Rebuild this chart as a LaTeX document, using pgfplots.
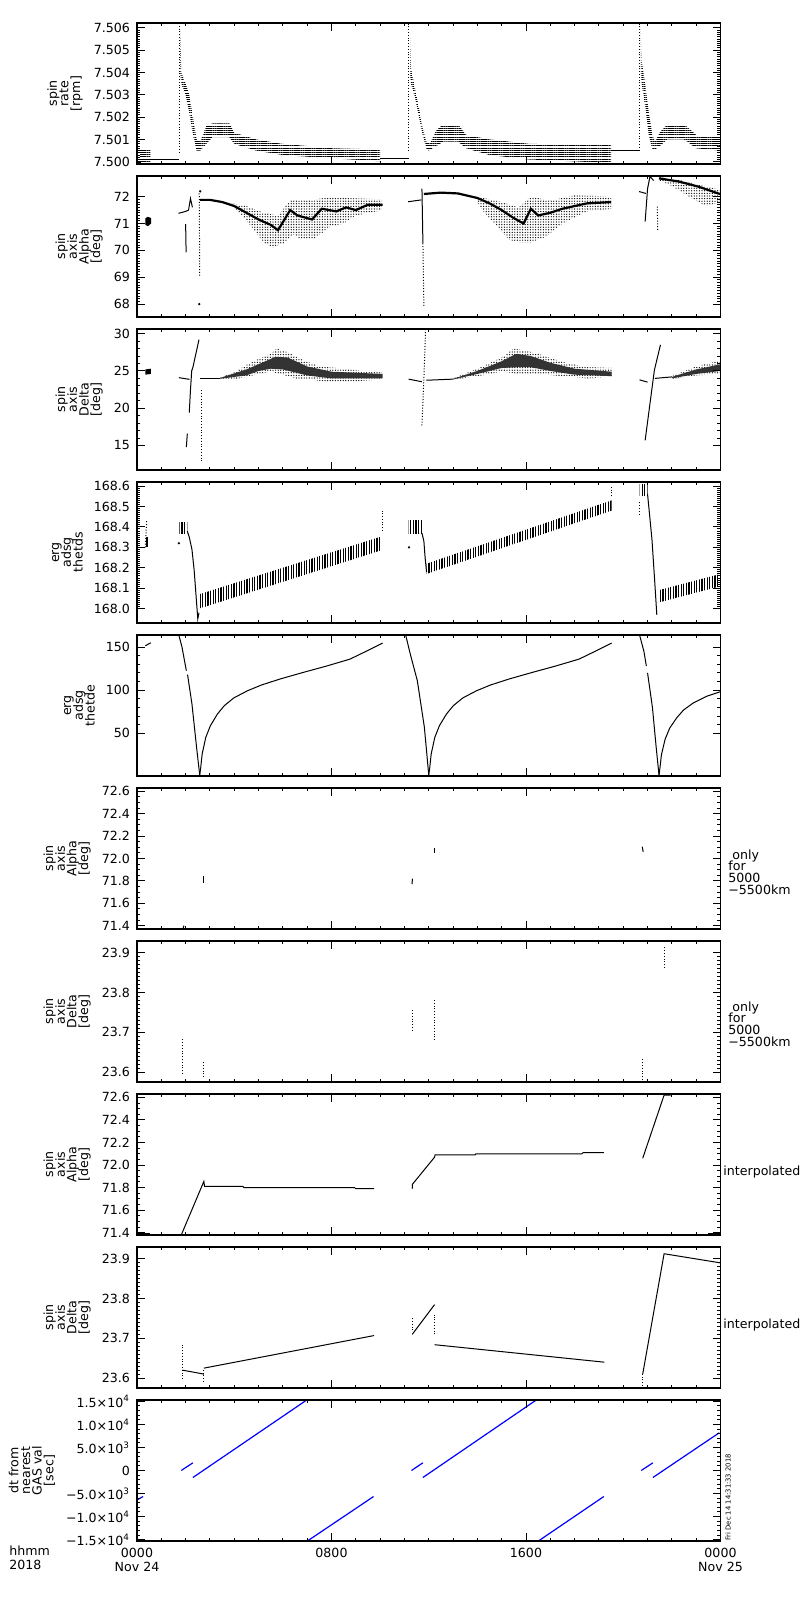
\documentclass[border=0pt]{standalone}
\usepackage{fontspec}
\setmainfont{DejaVu Sans}
\usepackage{pgfplots}
\pgfplotsset{compat=1.18}
\usetikzlibrary{patterns.meta}
\newcommand\ticksize{\fontsize{6.3}{7}\selectfont\lineskiplimit=-20pt}
\newcommand\labsize{\fontsize{6.3}{5.85}\selectfont\lineskiplimit=-20pt}
\tikzset{
 dl/.style={black, line width=0.5pt},
 dd/.style={black, line width=0.5pt, dash pattern=on 0.5pt off 0.9pt},
 core/.style={black, line width=1.1pt},
 scat/.style={draw=none, pattern={Dots[distance=1.3pt,radius=0.33pt]}},
 corefill/.style={draw=none, fill=black!80},
 hband/.style={draw=none, pattern={Lines[angle=0,distance=1.1pt,line width=0.35pt]}},
 vband/.style={draw=none, pattern={Lines[angle=90,distance=1.3pt,line width=0.65pt]}},
 blob/.style={draw=none, fill=black},
 pt/.style={only marks, mark=*, mark size=0.35pt, black},
}
\pgfplotsset{
 panel/.style={
  width=291.75pt, height=70.5pt, scale only axis, anchor=south west,
  xmin=0, xmax=24, xtick={0,8,16,24}, minor xtick={1,2,3,4,5,6,7,9,10,11,12,13,14,15,17,18,19,20,21,22,23},
  xticklabels={}, tick align=inside,
  major tick length=4pt, minor tick length=1.7pt,
  axis line style={line width=0.6pt},
  every tick/.style={line width=0.5pt, black},
  tick label style={font=\ticksize},
  ylabel style={font=\labsize, align=center, inner sep=2pt},
  scaled y ticks=false,
  axis on top,
 },
}
\begin{document}%
\begin{tikzpicture}
\path (0,0) rectangle (400pt,800pt);

% ---------- Panel 1: spin rate
\begin{axis}[panel, at={(68.5pt,718pt)}, ymin=7.4999, ymax=7.50622,
 ytick={7.500,7.501,7.502,7.503,7.504,7.505,7.506},
 yticklabels={7.500,7.501,7.502,7.503,7.504,7.505,7.506},
 minor y tick num=9, ylabel={spin\\rate\\{[rpm]}}]
\addplot[dl] coordinates {(0,7.49998) (0.15,7.49998)};
\addplot[hband] coordinates {(0.12,7.50000) (0.55,7.50000) (0.55,7.50055) (0.12,7.50055)};
\addplot[dl] coordinates {(0.15,7.50010) (1.74,7.50010)};
\addplot[dd] coordinates {(1.74,7.5004) (1.74,7.5062)};
\addplot[hband] coordinates {(1.78,7.5060) (1.82,7.5040) (2.0,7.5035) (2.15,7.5030) (2.3,7.5020) (2.45,7.5010) (2.6,7.5009) (2.85,7.5016) (3.1,7.50172) (3.8,7.50172) (4.0,7.5013) (4.9,7.5010) (6.0,7.5008) (8.1,7.5006) (10.0,7.50055) (10.0,7.50002) (8.1,7.50015) (6.0,7.5003) (4.9,7.5005) (4.0,7.5008) (3.8,7.5011) (3.1,7.5011) (2.85,7.5008) (2.6,7.5005) (2.45,7.5005) (2.3,7.5012) (2.15,7.5022) (2.0,7.5030) (1.82,7.5035) (1.78,7.5040)};
\addplot[dl] coordinates {(10.0,7.50013) (11.17,7.50013)};
\addplot[dd] coordinates {(11.18,7.5005) (11.18,7.5062)};
\addplot[hband] coordinates {(11.23,7.5060) (11.27,7.5042) (11.45,7.5032) (11.6,7.5024) (11.75,7.5015) (11.9,7.5009) (12.05,7.5008) (12.3,7.5014) (12.6,7.50168) (13.2,7.50168) (13.55,7.5012) (14.5,7.5010) (16.15,7.5008) (19.5,7.50075) (19.5,7.49995) (16.15,7.5001) (14.5,7.5003) (13.55,7.5006) (13.2,7.5009) (12.6,7.5009) (12.3,7.5007) (12.0,7.5005) (11.9,7.5006) (11.75,7.5012) (11.6,7.5020) (11.45,7.5028) (11.27,7.5035) (11.23,7.5040)};
\addplot[dl] coordinates {(19.5,7.50052) (20.66,7.50052)};
\addplot[dd] coordinates {(20.68,7.5005) (20.68,7.5062)};
\addplot[hband] coordinates {(20.72,7.5060) (20.76,7.5045) (20.9,7.5035) (21.05,7.5022) (21.2,7.5012) (21.3,7.5009) (21.5,7.5013) (21.8,7.50168) (22.5,7.50168) (23.0,7.5012) (24.0,7.5011) (24.0,7.5005) (23.0,7.5006) (22.5,7.5010) (21.8,7.5010) (21.5,7.5007) (21.3,7.50055) (21.2,7.50055) (21.05,7.5012) (20.9,7.5025) (20.76,7.5035) (20.72,7.5040)};
\end{axis}

% ---------- Panel 2: spin axis alpha
\begin{axis}[panel, at={(68.5pt,641.5pt)}, ymin=67.52, ymax=72.77,
 ytick={68,69,70,71,72}, yticklabels={68,69,70,71,72},
 minor y tick num=9, ylabel={spin\\axis\\Alpha\\{[deg]}}]
\addplot[blob] coordinates {(0.34,70.95) (0.45,70.9) (0.58,71.0) (0.58,71.2) (0.45,71.25) (0.34,71.2)};
\addplot[dl] coordinates {(1.71,71.38) (2.0,71.45) (2.12,71.5) (2.2,71.93) (2.28,71.6)};
\addplot[dl] coordinates {(2.0,70.98) (2.02,69.93)};
\addplot[dd] coordinates {(2.56,72.12) (2.58,69.0)};
\addplot[pt] coordinates {(2.56,68.0) (2.6,72.2)};
\addplot[scat] coordinates {(3.9,71.75) (4.5,71.65) (5.2,71.4) (5.8,71.3) (6.3,71.85) (7.0,71.85) (7.7,71.95) (8.5,71.95) (10.1,71.9) (10.1,71.5) (9.0,71.3) (8.5,71.0) (8.0,70.9) (7.3,70.45) (6.8,70.4) (6.4,70.6) (6.1,70.3) (5.6,70.1) (5.2,70.3) (4.7,70.9) (4.2,71.4) (3.9,71.65)};
\addplot[core] coordinates {(2.6,71.88) (3.0,71.88) (3.5,71.8) (4.0,71.65) (4.4,71.45) (5.0,71.15) (5.5,70.95) (5.8,70.75) (6.3,71.5) (6.6,71.3) (7.2,71.15) (7.6,71.55) (8.2,71.45) (8.6,71.6) (9.0,71.5) (9.5,71.7) (10.1,71.7)};
\addplot[dl] coordinates {(11.15,71.81) (11.7,71.88)};
\addplot[dl] coordinates {(11.72,72.3) (11.76,70.26)};
\addplot[dd] coordinates {(11.76,70.26) (11.8,67.9)};
\addplot[scat] coordinates {(14.0,72.0) (15.0,71.8) (15.7,71.6) (16.2,72.0) (17.0,71.85) (18.0,72.05) (19.5,72.0) (19.5,71.55) (18.5,71.45) (17.5,71.0) (16.8,70.5) (16.2,70.3) (15.7,70.3) (15.3,70.4) (14.8,70.9) (14.2,71.5) (14.0,71.8)};
\addplot[core] coordinates {(11.8,72.1) (12.5,72.15) (13.2,72.12) (14.0,71.95) (14.5,71.75) (15.0,71.5) (15.5,71.2) (15.9,71.0) (16.2,71.55) (16.5,71.3) (17.0,71.4) (17.5,71.55) (18.5,71.75) (19.5,71.8)};
\addplot[dl] coordinates {(20.65,72.19) (20.93,72.12)};
\addplot[dl] coordinates {(20.9,71.07) (21.0,72.3) (21.1,72.75) (21.25,72.6)};
\addplot[dd] coordinates {(21.4,71.63) (21.42,70.7)};
\addplot[scat] coordinates {(21.5,72.72) (22.3,72.62) (23.1,72.45) (24,72.25) (24,71.8) (23.4,71.65) (22.7,72.0) (22.0,72.4) (21.5,72.6)};
\addplot[core] coordinates {(21.47,72.68) (22.3,72.56) (23.1,72.37) (23.9,72.12) (24,72.1)};
\end{axis}

% ---------- Panel 3: spin axis delta
\begin{axis}[panel, at={(68.5pt,565pt)}, ymin=11.71, ymax=30.63,
 ytick={15,20,25,30}, yticklabels={15,20,25,30},
 minor y tick num=4, ylabel={spin\\axis\\Delta\\{[deg]}}]
\addplot[blob] coordinates {(0.34,24.5) (0.57,24.6) (0.57,25.3) (0.34,25.2)};
\addplot[dl] coordinates {(1.72,24.1) (2.16,23.87)};
\addplot[dl] coordinates {(2.03,14.77) (2.07,16.6)};
\addplot[dl] coordinates {(2.15,19.4) (2.2,22.5) (2.25,25.0) (2.3,25.5) (2.55,29.2)};
\addplot[dd] coordinates {(2.64,22.4) (2.64,12.75)};
\addplot[dl] coordinates {(2.6,24.0) (3.4,24.0)};
\addplot[scat] coordinates {(3.4,24.1) (4.0,24.8) (4.5,25.8) (5.0,26.6) (5.5,27.3) (5.75,28.0) (6.2,27.5) (6.8,26.5) (7.5,25.6) (8.5,25.3) (9.5,24.9) (10.1,24.8) (10.1,23.9) (9.0,23.6) (8.0,23.5) (7.2,23.8) (6.5,24.0) (6.0,24.5) (5.5,24.9) (5.0,24.6) (4.5,24.2) (4.0,23.9) (3.4,23.9)};
\addplot[corefill] coordinates {(3.4,24.05) (4.5,25.2) (5.0,25.9) (5.7,26.9) (6.2,26.8) (7.0,25.6) (8.0,24.9) (10.1,24.6) (10.1,24.0) (8.0,24.0) (7.0,24.4) (6.5,24.8) (6.0,25.2) (5.5,25.3) (5.0,25.0) (4.5,24.4) (3.4,23.95)};
\addplot[dl] coordinates {(11.17,23.9) (11.72,23.55)};
\addplot[dd] coordinates {(11.72,17.7) (11.8,24) (11.87,30.6)};
\addplot[dl] coordinates {(11.9,23.75) (13.0,23.9)};
\addplot[scat] coordinates {(13.0,24.0) (14.0,25.3) (15.0,26.8) (15.5,28.0) (16.0,27.7) (16.5,27.3) (17.5,26.2) (18.5,25.5) (19.52,25.4) (19.52,24.2) (18.5,24.0) (17.5,24.3) (16.5,24.6) (16.0,24.5) (15.5,24.7) (15.0,24.9) (14.0,24.3) (13.0,23.8)};
\addplot[corefill] coordinates {(13.0,23.95) (14.0,25.0) (15.0,26.3) (15.6,27.3) (16.2,27.0) (17.0,26.1) (18.0,25.3) (19.52,24.9) (19.52,24.3) (18.0,24.5) (17.0,25.0) (16.2,25.5) (15.6,25.5) (15.0,25.4) (14.0,24.6) (13.0,23.85)};
\addplot[dl] coordinates {(20.67,23.8) (21.0,23.5)};
\addplot[dl] coordinates {(20.9,15.68) (21.28,25.1) (21.53,28.5)};
\addplot[dl] coordinates {(21.3,24.0) (22.0,24.2)};
\addplot[scat] coordinates {(22.0,24.3) (23.0,25.6) (24,26.4) (24,24.6) (23.0,24.4) (22.0,23.9)};
\addplot[corefill] coordinates {(22.0,24.2) (23.0,25.2) (24,25.9) (24,25.0) (23.0,24.6) (22.0,24.0)};
\end{axis}

% ---------- Panel 4: erg adsg thetds
\begin{axis}[panel, at={(68.5pt,488.5pt)}, ymin=167.93, ymax=168.62,
 ytick={168.0,168.1,168.2,168.3,168.4,168.5,168.6},
 yticklabels={168.0,168.1,168.2,168.3,168.4,168.5,168.6},
 minor y tick num=9, ylabel={erg\\adsg\\thetds}]
\addplot[dd] coordinates {(0.34,168.30) (0.40,168.43)};
\addplot[blob] coordinates {(0.36,168.30) (0.45,168.30) (0.45,168.35) (0.36,168.35)};
\addplot[pt] coordinates {(1.72,168.32) (11.19,168.30)};
\addplot[vband] coordinates {(1.74,168.37) (2.07,168.37) (2.07,168.42) (1.74,168.42)};
\addplot[dl] coordinates {(2.07,168.38) (2.15,168.35) (2.26,168.29) (2.35,168.19) (2.45,168.03) (2.5,167.95) (2.55,167.98)};
\addplot[vband] coordinates {(2.55,168.0) (10.1,168.288) (10.1,168.355) (2.55,168.07)};
\addplot[dd] coordinates {(10.1,168.38) (10.1,168.48)};
\addplot[vband] coordinates {(11.17,168.37) (11.72,168.37) (11.72,168.43) (11.17,168.43)};
\addplot[dl] coordinates {(11.72,168.37) (11.8,168.33) (11.85,168.25) (11.91,168.18)};
\addplot[vband] coordinates {(11.91,168.17) (19.52,168.48) (19.52,168.53) (11.91,168.22)};
\addplot[dd] coordinates {(19.52,168.55) (19.52,168.60)};
\addplot[vband] coordinates {(20.67,168.55) (21.0,168.55) (21.0,168.61) (20.67,168.61)};
\addplot[dd] coordinates {(20.67,168.46) (20.67,168.52)};
\addplot[dl] coordinates {(21.0,168.56) (21.18,168.34) (21.28,168.16) (21.38,167.97)};
\addplot[vband] coordinates {(21.45,168.03) (24,168.11) (24,168.17) (21.45,168.09)};
\end{axis}

% ---------- Panel 5: erg adsg thetde
\begin{axis}[panel, at={(68.5pt,412pt)}, ymin=0.5, ymax=164,
 ytick={50,100,150}, yticklabels={50,100,150},
 minor y tick num=4, ylabel={erg\\adsg\\thetde}]
\addplot[dl] coordinates {(0.34,151.5) (0.57,155.0)};
\addplot[dl] coordinates {(1.72,164) (1.85,150) (2.03,122.6)};
\addplot[dl] coordinates {(2.08,118) (2.26,84) (2.45,33.8) (2.58,1.5)};
\addplot[dl] coordinates {(2.58,1.5) (2.62,10) (2.68,26) (2.83,45.4) (3.02,58.9) (3.31,72.4) (3.59,82) (3.98,91) (4.55,99.4) (5.12,106) (5.89,113) (6.85,120.7) (7.80,128) (8.76,136) (9.33,143.8) (10.1,154.6)};
\addplot[dl] coordinates {(11.05,164) (11.24,141.9) (11.53,111) (11.82,57) (12.0,1.5)};
\addplot[dl] coordinates {(12.0,1.5) (12.04,10) (12.10,26) (12.25,45.4) (12.44,58.9) (12.73,72.4) (13.01,82) (13.40,91) (13.97,99.4) (14.54,106) (15.31,113) (16.27,120.7) (17.22,128) (18.18,136) (18.75,143.8) (19.52,154.6)};
\addplot[dl] coordinates {(20.67,164) (20.85,145) (20.95,128)};
\addplot[dl] coordinates {(21.0,120) (21.2,80) (21.35,35) (21.47,1.5)};
\addplot[dl] coordinates {(21.47,1.5) (21.51,10) (21.57,25) (21.72,43) (21.91,56) (22.2,68) (22.48,77) (22.87,85) (23.44,93) (24.0,98.3)};
\end{axis}

% ---------- Panel 6: spin axis alpha (5000-5500 km)
\begin{axis}[panel, at={(68.5pt,335.5pt)}, ymin=71.37, ymax=72.63,
 ytick={71.4,71.6,71.8,72.0,72.2,72.4,72.6},
 yticklabels={71.4,71.6,71.8,72.0,72.2,72.4,72.6},
 minor y tick num=3, ylabel={spin\\axis\\Alpha\\{[deg]}}]
\addplot[dl] coordinates {(1.89,71.37) (1.93,71.40)};
\addplot[dl] coordinates {(2.75,71.845) (2.75,71.785)};
\addplot[dl] coordinates {(11.31,71.77) (11.33,71.82)};
\addplot[dl] coordinates {(12.24,72.05) (12.24,72.09)};
\addplot[dl] coordinates {(20.78,72.105) (20.82,72.06)};
\end{axis}

% ---------- Panel 7: spin axis delta (5000-5500 km)
\begin{axis}[panel, at={(68.5pt,259pt)}, ymin=23.575, ymax=23.93,
 ytick={23.6,23.7,23.8,23.9}, yticklabels={23.6,23.7,23.8,23.9},
 minor y tick num=9, ylabel={spin\\axis\\Delta\\{[deg]}}]
\addplot[dd] coordinates {(1.87,23.595) (1.87,23.683)};
\addplot[dd] coordinates {(2.75,23.587) (2.75,23.628)};
\addplot[dd] coordinates {(11.32,23.704) (11.32,23.756)};
\addplot[dd] coordinates {(12.24,23.68) (12.24,23.785)};
\addplot[dd] coordinates {(20.8,23.58) (20.8,23.632)};
\addplot[dd] coordinates {(21.68,23.862) (21.68,23.917)};
\end{axis}

% ---------- Panel 8: spin axis alpha interpolated
\begin{axis}[panel, at={(68.5pt,182.5pt)}, ymin=71.38, ymax=72.63,
 ytick={71.4,71.6,71.8,72.0,72.2,72.4,72.6},
 yticklabels={71.4,71.6,71.8,72.0,72.2,72.4,72.6},
 minor y tick num=3, ylabel={spin\\axis\\Alpha\\{[deg]}}]
\addplot[dl] coordinates {(0,71.395) (0.54,71.395)};
\addplot[dl] coordinates {(1.84,71.39) (2.75,71.855) (2.78,71.81) (4.36,71.81) (4.40,71.80) (8.95,71.80) (9.0,71.79) (9.75,71.79)};
\addplot[dl] coordinates {(11.32,71.79) (11.33,71.83) (12.24,72.07) (12.26,72.09) (13.9,72.09) (13.95,72.10) (18.3,72.10) (18.35,72.11) (19.2,72.11)};
\addplot[dl] coordinates {(20.8,72.06) (21.68,72.62) (21.95,72.62)};
\addplot[dl] coordinates {(23.5,71.395) (24,71.395)};
\end{axis}

% ---------- Panel 9: spin axis delta interpolated
\begin{axis}[panel, at={(68.5pt,106pt)}, ymin=23.575, ymax=23.93,
 ytick={23.6,23.7,23.8,23.9}, yticklabels={23.6,23.7,23.8,23.9},
 minor y tick num=9, ylabel={spin\\axis\\Delta\\{[deg]}}]
\addplot[dd] coordinates {(1.87,23.597) (1.87,23.685)};
\addplot[dl] coordinates {(1.87,23.62) (2.75,23.61)};
\addplot[dd] coordinates {(2.75,23.59) (2.75,23.625)};
\addplot[dl] coordinates {(2.75,23.625) (9.75,23.707)};
\addplot[dd] coordinates {(11.32,23.72) (11.32,23.755)};
\addplot[dl] coordinates {(11.32,23.71) (12.24,23.785)};
\addplot[dd] coordinates {(12.24,23.71) (12.24,23.76)};
\addplot[dl] coordinates {(12.24,23.684) (19.22,23.64)};
\addplot[dd] coordinates {(20.8,23.58) (20.8,23.61)};
\addplot[dl] coordinates {(20.8,23.61) (21.68,23.913) (24,23.89)};
\end{axis}

% ---------- Panel 10: dt from nearest GAS val
\begin{axis}[panel, at={(68.5pt,29.5pt)}, ymin=-15300, ymax=15300,
 ytick={-15000,-10000,-5000,0,5000,10000,15000},
 yticklabels={−1.5×10\textsuperscript{4},−1.0×10\textsuperscript{4},−5.0×10\textsuperscript{3},0,5.0×10\textsuperscript{3},1.0×10\textsuperscript{4},1.5×10\textsuperscript{4}},
 minor y tick num=4, ylabel={dt from\\nearest\\GAS val\\{[sec]}},
 xticklabels={{0000\\Nov 24},0800,1600,{0000\\Nov 25}},
 xticklabel style={align=center, font=\ticksize}]
\addplot[blue, line width=0.6pt] coordinates {(0,-6380) (0.25,-5650)};
\addplot[blue, line width=0.6pt] coordinates {(1.82,0) (2.30,1670)};
\addplot[blue, line width=0.6pt] coordinates {(2.30,-1520) (7.01,15400)};
\addplot[blue, line width=0.6pt] coordinates {(7.01,-15300) (9.73,-5650)};
\addplot[blue, line width=0.6pt] coordinates {(11.29,0) (11.76,1670)};
\addplot[blue, line width=0.6pt] coordinates {(11.76,-1520) (16.45,15400)};
\addplot[blue, line width=0.6pt] coordinates {(16.51,-15300) (19.2,-5650)};
\addplot[blue, line width=0.6pt] coordinates {(20.74,0) (21.22,1670)};
\addplot[blue, line width=0.6pt] coordinates {(21.22,-1520) (23.95,8190)};
\end{axis}

% ---------- side texts
\node[anchor=west, align=left, font=\labsize, inner sep=0pt] at (364pt,364pt) {\ only\\for\\5000\\−5500km};
\node[anchor=west, align=left, font=\labsize, inner sep=0pt] at (364pt,288pt) {\ only\\for\\5000\\−5500km};
\node[anchor=west, font=\labsize, inner sep=0pt] at (361.5pt,214pt) {interpolated};
\node[anchor=west, font=\labsize, inner sep=0pt] at (361.5pt,137.5pt) {interpolated};
\node[rotate=90, anchor=north west, font=\fontsize{3.4}{4}\selectfont, inner sep=0pt] at (362.5pt,29.5pt) {Fri Dec 14 14:31:33 2018};
\node[anchor=north west, align=left, font=\ticksize, inner sep=0pt] at (4.5pt,27.2pt) {hhmm\\2018};
\pgfresetboundingbox
\path[use as bounding box] (0,0) rectangle (400pt,800pt);
\end{tikzpicture}%
\end{document}
